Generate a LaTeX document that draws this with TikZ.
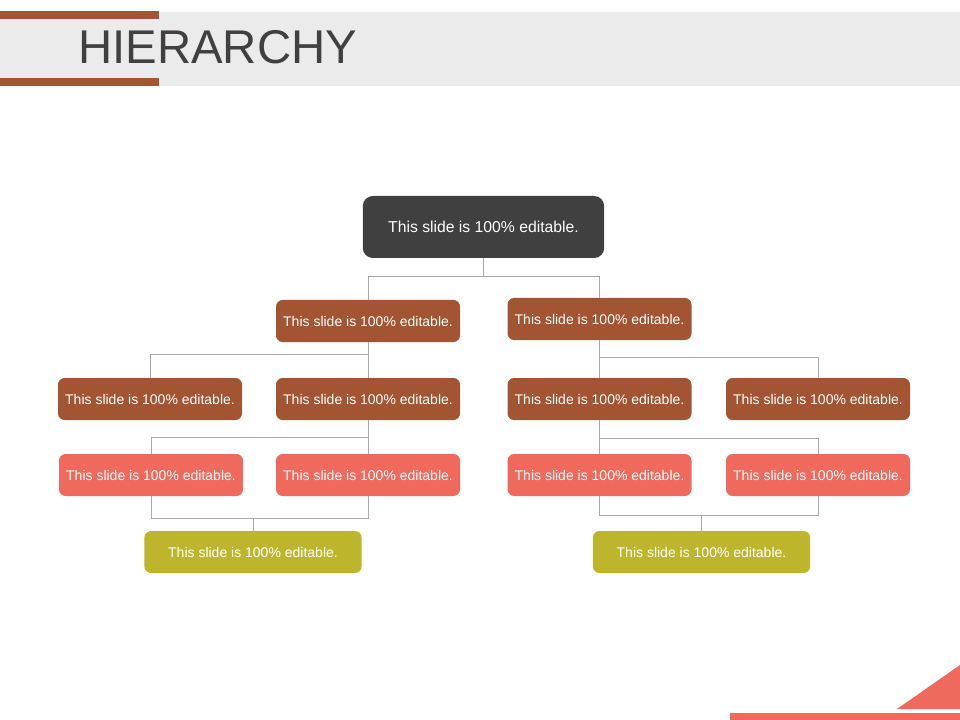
\documentclass[tikz,border=0pt]{standalone}
\usepackage{fontspec}
\setmainfont{Liberation Sans}
\usetikzlibrary{positioning, calc}
\definecolor{HierDark}{RGB}{64, 64, 64}
\definecolor{HierRust}{RGB}{163, 84, 50}
\definecolor{HierSalmon}{RGB}{239, 106, 92}
\definecolor{HierOlive}{RGB}{189, 181, 44}
\definecolor{HierBand}{RGB}{235, 235, 235}
\definecolor{HierLink}{RGB}{170, 170, 170}

\begin{document}
\begin{tikzpicture}[x=0.75pt, y=-0.75pt,
    box/.style={rounded corners=5pt, text=white, inner sep=0pt,
        minimum width=138pt, minimum height=31.5pt,
        font=\fontsize{10.5}{12}\selectfont},
    topbox/.style={box, fill=HierDark, rounded corners=7.5pt,
        minimum width=181pt, minimum height=46.5pt,
        font=\fontsize{11.8}{14}\selectfont},
    rustbox/.style={box, fill=HierRust},
    salmonbox/.style={box, fill=HierSalmon},
    olivebox/.style={box, fill=HierOlive, minimum width=163pt},
    link/.style={draw=HierLink, line width=0.6pt}]
    \useasboundingbox (0,0) rectangle (960,720);
    % header
    \fill[HierBand] (0,12) rectangle (960,86);
    \fill[HierRust] (0,11) rectangle (159,19);
    \fill[HierRust] (0,78) rectangle (159,86);
    \node[anchor=base west, inner sep=0pt, text=HierDark,
        font=\fontsize{35.5}{40}\selectfont] (title) at (78,64) {HIERARCHY};
    % corner marks
    \fill[HierSalmon] (897,709) -- (960,665) -- (960,709) -- cycle;
    \fill[HierSalmon] (730,713) rectangle (960,720);

    % boxes
    \node[topbox] (root) at (483.5,227) {This slide is 100\% editable.};
    \node[rustbox] (a) at (368,321) {This slide is 100\% editable.};
    \node[rustbox] (b) at (599.5,319) {This slide is 100\% editable.};
    \node[rustbox] (aa) at (150,399) {This slide is 100\% editable.};
    \node[rustbox] (ab) at (368,399) {This slide is 100\% editable.};
    \node[rustbox] (ba) at (599.5,399) {This slide is 100\% editable.};
    \node[rustbox] (bb) at (818,399) {This slide is 100\% editable.};
    \node[salmonbox] (aba) at (151,475) {This slide is 100\% editable.};
    \node[salmonbox] (abb) at (368,475) {This slide is 100\% editable.};
    \node[salmonbox] (baa) at (599.5,475) {This slide is 100\% editable.};
    \node[salmonbox] (bab) at (818,475) {This slide is 100\% editable.};
    \node[olivebox] (abx) at (253,552) {This slide is 100\% editable.};
    \node[olivebox] (bax) at (701.5,552) {This slide is 100\% editable.};

    % links
    \draw[link] (root.south) -- ++(0,18) -| (a.north);
    \draw[link] (root.south) -- ++(0,18) -| (b.north);
    \draw[link] (a.south) -- (ab.north);
    \draw[link] (a.south) ++(0,12) -| (aa.north);
    \draw[link] (b.south) -- (ba.north);
    \draw[link] (b.south) ++(0,17) -| (bb.north);
    \draw[link] (ab.south) -- (abb.north);
    \draw[link] (ab.south) ++(0,17) -| (aba.north);
    \draw[link] (ba.south) -- (baa.north);
    \draw[link] (ba.south) ++(0,18) -| (bab.north);
    \draw[link] (aba.south) -- ++(0,22) -| (abb.south);
    \draw[link] (abx.north) -- ++(0,-13);
    \draw[link] (baa.south) -- ++(0,19) -| (bab.south);
    \draw[link] (bax.north) -- ++(0,-16);
\end{tikzpicture}
\end{document}
